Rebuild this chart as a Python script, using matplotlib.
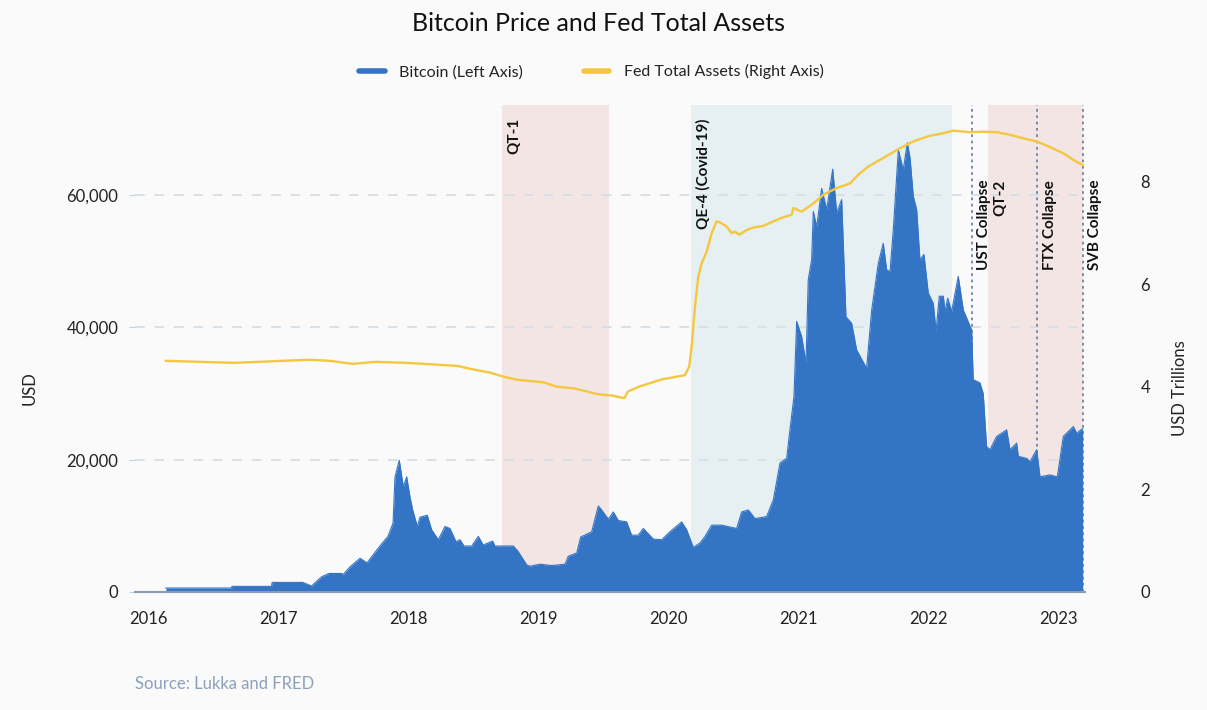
import matplotlib
matplotlib.use("Agg")
import matplotlib.pyplot as plt
from matplotlib.lines import Line2D
import matplotlib.transforms as mtransforms

plt.rcParams['font.family'] = ['Lato', 'DejaVu Sans']

# Bitcoin price (USD), x in decimal years
btc_year = [2016.138, 2016.642, 2016.646, 2016.950, 2016.955, 2017.190, 2017.259, 2017.285,
            2017.336, 2017.392, 2017.490, 2017.500, 2017.554, 2017.631, 2017.685, 2017.731,
            2017.798, 2017.846, 2017.885, 2017.900, 2017.933, 2017.964, 2017.990, 2018.015,
            2018.036, 2018.072, 2018.092, 2018.148, 2018.182, 2018.233, 2018.285, 2018.323,
            2018.369, 2018.400, 2018.431, 2018.490, 2018.541, 2018.579, 2018.651, 2018.669,
            2018.810, 2018.848, 2018.913, 2018.938, 2019.015, 2019.105, 2019.208, 2019.233,
            2019.298, 2019.328, 2019.413, 2019.464, 2019.490, 2019.541, 2019.579, 2019.618,
            2019.682, 2019.720, 2019.772, 2019.810, 2019.887, 2019.951, 2020.015, 2020.105,
            2020.144, 2020.195, 2020.246, 2020.285, 2020.336, 2020.413, 2020.528, 2020.567,
            2020.618, 2020.669, 2020.759, 2020.810, 2020.862, 2020.913, 2020.938, 2020.969,
            2020.990, 2021.028, 2021.062, 2021.079, 2021.105, 2021.118, 2021.144, 2021.182,
            2021.221, 2021.267, 2021.298, 2021.336, 2021.369, 2021.413, 2021.451, 2021.528,
            2021.567, 2021.618, 2021.656, 2021.682, 2021.708, 2021.733, 2021.772, 2021.810,
            2021.841, 2021.862, 2021.887, 2021.913, 2021.938, 2021.969, 2022.002, 2022.041,
            2022.062, 2022.087, 2022.118, 2022.131, 2022.152, 2022.182, 2022.233, 2022.272,
            2022.336, 2022.348, 2022.400, 2022.425, 2022.451, 2022.477, 2022.528, 2022.605,
            2022.631, 2022.682, 2022.695, 2022.759, 2022.785, 2022.836, 2022.862, 2022.938,
            2022.995, 2023.041, 2023.118, 2023.144, 2023.190]
btc_price = [600, 600, 850, 850, 1450, 1450, 900, 1400,
             2300, 2800, 2800, 2600, 3800, 5100, 4400, 5600,
             7300, 8400, 10400, 17400, 19900, 15900, 17400, 14400,
             12400, 9900, 11300, 11600, 9400, 7900, 9900, 9600,
             7600, 7900, 6950, 6950, 8400, 7100, 7700, 6950,
             6950, 6100, 4100, 3900, 4200, 4000, 4200, 5400,
             5900, 8300, 9100, 13000, 12400, 11000, 12100, 10800,
             10600, 8600, 8600, 9600, 8000, 7900, 9100, 10600,
             9400, 6750, 7400, 8400, 10100, 10100, 9600, 12100,
             12400, 11100, 11400, 13900, 19500, 20200, 24500, 29500,
             40900, 38600, 34600, 47200, 50200, 57500, 55200, 61000,
             57800, 63900, 57300, 59300, 41600, 40600, 36600, 33800,
             42600, 49700, 52700, 48700, 48400, 54700, 66800, 63800,
             67900, 65600, 59800, 57800, 50200, 51000, 45200, 43600,
             39400, 44700, 44700, 42400, 44400, 42400, 47700, 42600,
             39600, 32100, 31600, 30000, 22000, 21500, 23500, 24500,
             21500, 22500, 20500, 20200, 19700, 21500, 17400, 17700,
             17400, 23500, 25000, 24000, 24700]

# Fed total assets (USD trillions)
fed_year = [2016.137, 2016.662, 2017.235, 2017.397, 2017.574, 2017.750, 2017.985, 2018.192,
            2018.383, 2018.485, 2018.631, 2018.722, 2018.838, 2019.046, 2019.134, 2019.282,
            2019.458, 2019.575, 2019.664, 2019.692, 2019.782, 2019.869, 2019.958, 2020.067,
            2020.131, 2020.164, 2020.182, 2020.208, 2020.233, 2020.259, 2020.298, 2020.336,
            2020.374, 2020.400, 2020.451, 2020.490, 2020.515, 2020.548, 2020.605, 2020.656,
            2020.733, 2020.810, 2020.887, 2020.952, 2020.964, 2021.028, 2021.118, 2021.195,
            2021.298, 2021.400, 2021.464, 2021.541, 2021.631, 2021.759, 2021.887, 2022.015,
            2022.118, 2022.195, 2022.323, 2022.425, 2022.528, 2022.631, 2022.733, 2022.836,
            2022.938, 2023.041, 2023.118, 2023.190]
fed_assets = [4.51, 4.47, 4.53, 4.51, 4.45, 4.49, 4.47, 4.44,
              4.41, 4.35, 4.28, 4.21, 4.14, 4.09, 4.01, 3.97,
              3.86, 3.83, 3.78, 3.91, 4.01, 4.08, 4.15, 4.20,
              4.23, 4.40, 4.79, 5.57, 6.15, 6.41, 6.64, 7.00,
              7.23, 7.21, 7.13, 7.00, 7.03, 6.97, 7.06, 7.11,
              7.14, 7.23, 7.31, 7.36, 7.49, 7.42, 7.58, 7.75,
              7.88, 7.97, 8.14, 8.30, 8.43, 8.62, 8.79, 8.90,
              8.95, 9.00, 8.97, 8.98, 8.97, 8.92, 8.85, 8.79,
              8.68, 8.56, 8.43, 8.33]

# policy regimes and events
span_names = ['QT-1', 'QE-4 (Covid-19)', 'QT-2']
span_start = [2018.723, 2020.180, 2022.460]
span_end = [2019.546, 2022.185, 2023.190]
span_colors = ['#F2E5E3', '#E6EFF2', '#F2E5E3']
event_names = ['UST Collapse', 'FTX Collapse', 'SVB Collapse']
event_year = [2022.335, 2022.842, 2023.192]
years = [2016, 2017, 2018, 2019, 2020, 2021, 2022, 2023]

bg = '#FAFAFA'
blue = '#3474C5'
yellow = '#F5C73E'
grey_txt = '#222222'

fig = plt.figure(figsize=(12.07, 7.10), dpi=100, facecolor=bg)
ax = fig.add_axes([135/1207, 1-592/710, 950/1207, 487/710])
ax.set_facecolor(bg)

for s, e, c in zip(span_start, span_end, span_colors):
    ax.axvspan(s, e, color=c, zorder=0, lw=0)

for v in [20000, 40000, 60000]:
    ax.axhline(v, color='#D8E0E8', lw=1.4, dashes=(5, 5), zorder=0.5)

for x in event_year:
    ax.axvline(x, color='#6E85A5', lw=1.3, dashes=(1.5, 2), zorder=0.8)

ax.fill_between(btc_year, 0, btc_price, color=blue, lw=0, zorder=1)
ax.plot(btc_year, btc_price, color=blue, lw=0.8, zorder=1)

ax.set_xlim(2015.9, 2023.208)
ax.set_ylim(0, 73600)
ax.set_xticks(years)
ax.set_xticklabels([str(y) for y in years])
ax.set_yticks([0, 20000, 40000, 60000])
ax.set_yticklabels(['0', '20,000', '40,000', '60,000'])
ax.tick_params(axis='x', length=0, pad=14, labelsize=12, labelcolor=grey_txt)
ax.tick_params(axis='y', length=4, color='#C9D2DC', pad=8, labelsize=12, labelcolor=grey_txt)
for sp in ['top', 'right', 'left']:
    ax.spines[sp].set_visible(False)
ax.spines['bottom'].set_color('#8A9BB3')
ax.spines['bottom'].set_linewidth(1.5)

ax2 = ax.twinx()
ax2.plot(fed_year, fed_assets, color=yellow, lw=1.7, zorder=3)
ax2.set_ylim(0, 9.5)
ax2.set_yticks([0, 2, 4, 6, 8])
ax2.tick_params(axis='y', length=0, pad=40, labelsize=12, labelcolor=grey_txt)
for sp in ax2.spines.values():
    sp.set_visible(False)

# labels for spans and events
trans = mtransforms.blended_transform_factory(ax.transData, ax.transAxes)
span_lbl_x = [s + 0.095 for s in span_start]
span_lbl_y = [0.973, 0.973, 0.846]
for name, x, y in zip(span_names, span_lbl_x, span_lbl_y):
    ax2.text(x, y, name, transform=trans, rotation=90, ha='center', va='top',
             fontsize=11, fontweight='bold', color='#111111')
for name, x in zip(event_names, event_year):
    ax2.text(x + 0.095, 0.846, name, transform=trans, rotation=90, ha='center', va='top',
             fontsize=11, fontweight='bold', color='#111111', clip_on=False)

fig.text(0.4955, 0.967, 'Bitcoin Price and Fed Total Assets', ha='center', va='center',
         fontsize=18, color='#111111')
handles = [Line2D([], [], color=blue, lw=4, solid_capstyle='round'),
           Line2D([], [], color=yellow, lw=4, solid_capstyle='round')]
fig.legend(handles, ['Bitcoin (Left Axis)', 'Fed Total Assets (Right Axis)'],
           loc='center', bbox_to_anchor=(0.49, 0.899), ncol=2, frameon=False,
           fontsize=11.5, handlelength=1.6, handletextpad=0.9, columnspacing=3.8,
           labelcolor=grey_txt)

fig.text(30/1207, 1-388/710, 'USD', rotation=90, ha='center', va='center',
         fontsize=12, color=grey_txt)
fig.text(1180/1207, 1-388/710, 'USD Trillions', rotation=90, ha='center', va='center',
         fontsize=12, color=grey_txt)
fig.text(135/1207, 1-684/710, 'Source: Lukka and FRED', ha='left', va='center',
         fontsize=12, color='#8BA1BB')

fig.savefig('out.png', dpi=100, facecolor=bg)
